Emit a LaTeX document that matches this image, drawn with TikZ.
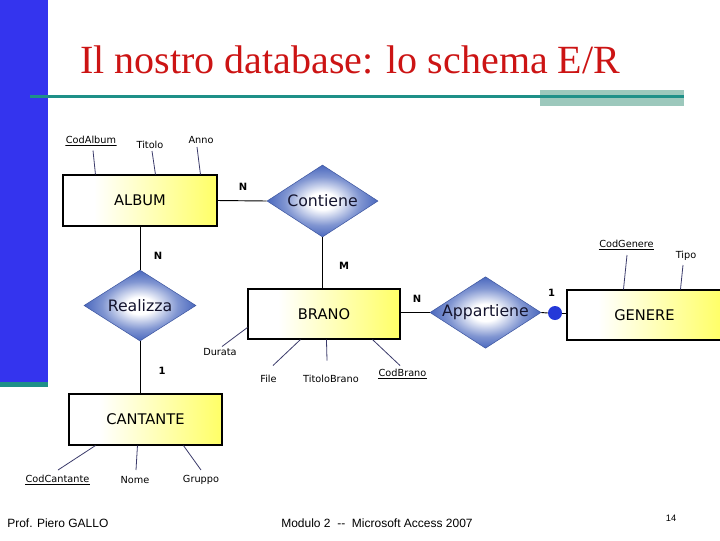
\documentclass[tikz,border=0pt]{standalone}
\usepackage{fontspec}
\setmainfont{Liberation Serif}
\newfontfamily\dv{DejaVu Sans}
\newfontfamily\ls{Liberation Sans}
\usetikzlibrary{shapes.geometric,calc}
\definecolor{barblue}{HTML}{3434EE}
\definecolor{tealc}{HTML}{1E9088}
\definecolor{greenbox}{HTML}{9CC8BC}
\definecolor{titlered}{HTML}{CC1414}
\definecolor{dblue}{HTML}{4A68BE}
\definecolor{eyel}{HTML}{FFFF66}
\definecolor{attrc}{HTML}{3A3A6A}
\definecolor{dotblue}{HTML}{2438D8}
\definecolor{dtext}{HTML}{14142E}
\pgfdeclarehorizontalshading{eshade}{100bp}{color(0bp)=(white); color(35bp)=(white); color(75bp)=(eyel); color(100bp)=(eyel)}
\pgfdeclareradialshading{dshade}{\pgfpoint{0bp}{0bp}}{color(0bp)=(white); color(6bp)=(white); color(17bp)=(dblue!70); color(25bp)=(dblue); color(50bp)=(dblue)}
\def\px{0.75pt}
\tikzset{
  entity/.style={draw=black, line width=0.8pt, shading=eshade, inner sep=0pt,
    font=\dv\fontsize{11}{13}\selectfont},
  rel/.style={diamond, aspect=1.54, inner sep=0pt, shading=dshade, draw=dblue!85!black, line width=0.4pt,
    minimum width=111*\px, minimum height=72*\px, text=dtext, font=\dv\fontsize{11.8}{14}\selectfont},
  attr/.style={inner sep=0.5pt, font=\dv\fontsize{7.3}{8}\selectfont},
  key/.style={attr, text depth=1.2pt, path picture={\draw[line width=0.6pt] (path picture bounding box.south west)++(0,0.4pt) -- ([yshift=0.4pt]path picture bounding box.south east);}},
  card/.style={inner sep=0pt, font=\dv\bfseries\fontsize{7.5}{9}\selectfont},
  aline/.style={draw=attrc, line width=0.6pt},
  link/.style={draw=black, line width=0.7pt},
  foot/.style={inner sep=0pt, anchor=base west, font=\ls\fontsize{9}{11}\selectfont}
}
\begin{document}
\begin{tikzpicture}[x=0.75pt, y=-0.75pt]
\useasboundingbox (0,0) rectangle (720,540);
% decorations
\fill[barblue] (0,0) rectangle (48,383);
\fill[tealc] (0,382) rectangle (48,387);
\fill[greenbox] (540,90) rectangle (684,106);
\draw[tealc, line width=3*\px] (30,96) -- (684,96);
\node[anchor=base west, inner sep=0pt, text=titlered, font=\fontsize{30}{34}\selectfont] (title) at (80,73) {Il nostro database: lo schema E/R};

% entities
\node[entity, minimum width=154*\px, minimum height=51*\px] (album) at (140,200.5) {ALBUM};
\node[entity, minimum width=152*\px, minimum height=50*\px] (brano) at (324,314) {BRANO};
\node[entity, minimum width=155*\px, minimum height=50*\px] (genere) at (644.5,315) {GENERE};
\node[entity, minimum width=153*\px, minimum height=51*\px] (cantante) at (145.5,419.5) {CANTANTE};

% relationships
\node[rel] (contiene) at (322.5,201) {Contiene};
\node[rel, minimum width=112*\px, minimum height=71*\px] (realizza) at (140,305.5) {Realizza};
\node[rel, minimum height=71*\px] (appartiene) at (485.5,312.5) {Appartiene};

% connectors
\draw[link] (album.east) -- (contiene.west);
\draw[link] (album.south) -- (realizza.north);
\draw[link] (contiene.south) -- (contiene.south |- brano.north);
\draw[link] (realizza.south) -- (realizza.south |- cantante.north);
\draw[link] (brano.east |- appartiene.west) -- (appartiene.west);
\node[circle, fill=dotblue, inner sep=0pt, minimum size=14*\px] (dot) at (555,313) {};
\draw[link] (appartiene.east) -- (dot.west);
\draw[link] (dot.east) -- (dot.east -| genere.west);

% cardinalities
\node[card] (c1) at (243,187) {N};
\node[card] (c2) at (158,256) {N};
\node[card] (c3) at (344,265.5) {M};
\node[card] (c4) at (162,371) {1};
\node[card] (c5) at (417,298.5) {N};
\node[card] (c6) at (551.5,293) {1};

% attributes
\node[key] (codalbum) at (91,140.5) {CodAlbum};
\node[attr] (titolo) at (150,145) {Titolo};
\node[attr] (anno) at (201,140) {Anno};
\node[key] (codgenere) at (626.5,245) {CodGenere};
\node[attr] (tipo) at (686,256) {Tipo};
\node[attr] (durata) at (220,352.5) {Durata};
\node[attr] (file) at (268.5,378.5) {File};
\node[attr] (titolobrano) at (331,378.5) {TitoloBrano};
\node[key] (codbrano) at (402.5,373.5) {CodBrano};
\node[key] (codcantante) at (57.5,480) {CodCantante};
\node[attr] (nome) at (135,480) {Nome};
\node[attr] (gruppo) at (201,480) {Gruppo};

\draw[aline] ([shift={(2,10)}]codalbum.center) -- ([shift={(33,0)}]album.north west);
\draw[aline] ([shift={(2,6)}]titolo.center) -- ([shift={(93,0)}]album.north west);
\draw[aline] ([shift={(-4,7)}]anno.center) -- ([shift={(138,0)}]album.north west);
\draw[aline] ([shift={(0.5,10)}]codgenere.center) -- ([shift={(57,0)}]genere.north west);
\draw[aline] ([shift={(-3,9)}]tipo.center) -- ([shift={(114,0)}]genere.north west);
\draw[aline] ([shift={(2,-6)}]durata.center) -- ([shift={(0,39)}]brano.north west);
\draw[aline] ([shift={(4.5,-13)}]file.center) -- ([shift={(53,0)}]brano.south west);
\draw[aline] ([shift={(-4,-18)}]titolobrano.center) -- ([shift={(79,0)}]brano.south west);
\draw[aline] ([shift={(-2.5,-8)}]codbrano.center) -- ([shift={(125,0)}]brano.south west);
\draw[aline] ([shift={(0.5,-10)}]codcantante.center) -- ([shift={(27,0)}]cantante.south west);
\draw[aline] ([shift={(1,-10)}]nome.center) -- ([shift={(69,0)}]cantante.south west);
\draw[aline] ([shift={(0,-10)}]gruppo.center) -- ([shift={(115,0)}]cantante.south west);

% footer
\node[foot] (author) at (7,527) {Prof. Piero GALLO};
\node[foot] (module) at (281,527) {Modulo 2 \ -{}- \ Microsoft Access 2007};
\node[inner sep=0pt, font=\ls\fontsize{7}{8}\selectfont] (page) at (671,518) {14};
\end{tikzpicture}
\end{document}
